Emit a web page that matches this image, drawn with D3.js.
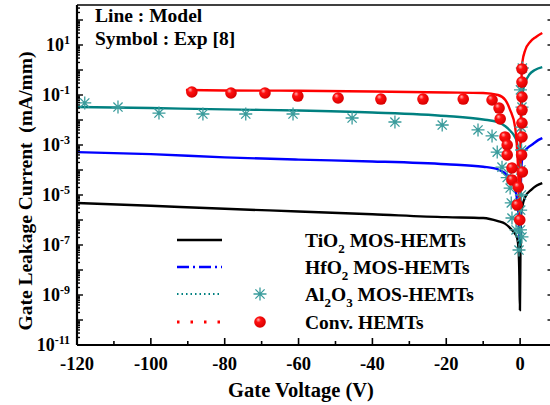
<!DOCTYPE html>
<html><head><meta charset="utf-8">
<script src="https://cdn.jsdelivr.net/npm/d3@7"></script>
<style>body{margin:0;background:#fff}svg{display:block}</style>
</head><body><svg id="c" width="550" height="405"></svg>
<script>
// ---------- data (gate voltage in V, leakage current in mA/mm) ----------
const xTicks = [-120, -100, -80, -60, -40, -20, 0];
const yTickExponents = [1, -1, -3, -5, -7, -9, -11];

const tio2V = [-120, -100, -80, -60, -40, -20, -10, -6, -4, -2.5, -1.5, -0.8, -0.4, -0.2, -0.05, 0.1, 0.25, 0.6, 1.5, 3, 4.5, 6];
const tio2I = [4.8e-6, 3.7e-6, 2.8e-6, 2.2e-6, 1.7e-6, 1.3e-6, 1.2e-6, 9e-7, 7e-7, 4.4e-7, 3e-7, 1.9e-7, 6e-8, 6e-9, 2.5e-10, 1e-7, 1.6e-6, 3.5e-6, 9e-6, 1.6e-5, 2.4e-5, 3e-5];

const hfo2V = [-120, -100, -80, -60, -40, -20, -10, -6, -3.5, -2.5, -1.5, -0.8, -0.4, -0.15, 0.05, 0.2, 0.5, 1, 2, 3.5, 5, 6];
const hfo2I = [5.2e-4, 4.3e-4, 3.2e-4, 2.6e-4, 2.2e-4, 1.7e-4, 1.35e-4, 1.07e-4, 6.3e-5, 4.5e-5, 2e-5, 6.3e-6, 1.3e-6, 1.6e-7, 3.2e-7, 2.5e-5, 2.5e-4, 5e-4, 7.6e-4, 1.1e-3, 1.6e-3, 1.9e-3];

const al2o3V = [-120, -100, -80, -60, -40, -20, -10, -6, -4, -2.5, -1.5, -0.8, -0.4, -0.15, -0.02, 0.1, 0.3, 0.7, 1.5, 2.5, 4, 6];
const al2o3I = [0.033, 0.03, 0.0265, 0.024, 0.02, 0.0145, 0.0105, 8.3e-3, 5.6e-3, 3.5e-3, 2.2e-3, 1.2e-3, 2.5e-4, 1e-5, 1e-7, 1e-4, 0.01, 0.126, 0.35, 0.66, 1.0, 1.3];

const convV = [-90.5, -80, -60, -40, -20, -10, -6, -4, -2.7, -1.35, -0.8, -0.4, -0.15, 0.05, 0.2, 0.4, 0.6, 1.4, 2.7, 4.3, 6];
const convI = [0.158, 0.151, 0.148, 0.138, 0.126, 0.12, 0.1, 0.063, 0.025, 5.2e-3, 6.3e-4, 3.2e-5, 1.6e-6, 1e-5, 0.01, 0.5, 2, 6.3, 13.2, 21, 30];

const expAl2o3V = [-117.9, -108.9, -97.8, -85.9, -74.3, -61.5, -45.5, -33.9, -21.1, -11.4, -7.6, -6.2, -4.9, -3.5, -2.7, -2.4, -2.2, -1.1, -0.3, 0.6, 0.1, 0.5, 0.3, 0.4, 0.2, 0.35, 0.15, 0.5, 0.1];
const expAl2o3I = [0.048, 0.033, 0.019, 0.0174, 0.0174, 0.0174, 0.012, 0.0083, 0.0063, 0.004, 0.0023, 5.2e-4, 1.3e-4, 5e-5, 1.9e-5, 4.8e-6, 1.2e-6, 4e-7, 6.3e-8, 1.2, 0.16, 0.033, 5.2e-3, 6.3e-4, 1e-4, 1e-5, 2.5e-6, 2.1e-7, 4e-7];

const expConvV = [-88.9, -78.3, -69.1, -60.2, -49.3, -37.7, -26.3, -15.4, -7.6, -5.7, -5.4, -4.1, -3.5, -3.5, -2.2, -2.2, -0.5, -0.8, -0.1, 0.5, 0.5, 0.5, 0.5, 0.5, 0.5, 0.4, 0.6];
const expConvI = [0.132, 0.12, 0.12, 0.091, 0.076, 0.069, 0.069, 0.069, 0.063, 0.03, 0.011, 2.1e-3, 1e-3, 4e-4, 1.2e-4, 4e-5, 2.1e-5, 4e-6, 1e-6, 1.1, 0.33, 0.083, 0.025, 7.6e-3, 2.1e-3, 4e-4, 8.3e-5];

// ---------- layout ----------
const svg = d3.select("#c");
const L = 77, R = 551.5, T = 5, B = 345;
const x = d3.scaleLinear().domain([-120, 8.5]).range([L, R]);
const y = d3.scaleLog().domain([1e-11, Math.pow(10, 2.6)]).range([B, T]);
const font = "'Liberation Serif','Times New Roman',serif";

const defs = svg.append("defs");
defs.append("clipPath").attr("id", "clip").append("rect")
  .attr("x", L).attr("y", T).attr("width", R - L).attr("height", B - T);
const grad = defs.append("radialGradient").attr("id", "ball").attr("cx", "40%").attr("cy", "40%").attr("r", "60%").attr("fx", "35%").attr("fy", "30%");
grad.append("stop").attr("offset", "0%").attr("stop-color", "#ffb0b0");
grad.append("stop").attr("offset", "35%").attr("stop-color", "#ff1010");
grad.append("stop").attr("offset", "100%").attr("stop-color", "#d80000");

// ---------- curves ----------
const plot = svg.append("g").attr("clip-path", "url(#clip)");
const line = d3.line().x(d => x(d[0])).y(d => y(d[1])).curve(d3.curveMonotoneX);
const series = [
  {V: tio2V, I: tio2I, c: "#000000"},
  {V: hfo2V, I: hfo2I, c: "#0000ff"},
  {V: al2o3V, I: al2o3I, c: "#008080"},
  {V: convV, I: convI, c: "#ff0000"}
];
series.forEach(s => {
  plot.append("path").datum(d3.zip(s.V, s.I)).attr("d", line)
    .attr("fill", "none").attr("stroke", s.c).attr("stroke-width", 2.4);
});

// ---------- markers ----------
const star = "M-6.5,0H6.5M0,-6.5V6.5M-4.6,-4.6L4.6,4.6M-4.6,4.6L4.6,-4.6";
plot.selectAll(".star").data(d3.zip(expAl2o3V, expAl2o3I)).enter().append("path")
  .attr("d", star).attr("transform", d => `translate(${x(d[0])},${y(d[1])})`)
  .attr("fill", "none").attr("stroke", "#3a9c9c").attr("stroke-width", 1.3);
plot.selectAll(".ball").data(d3.zip(expConvV, expConvI)).enter().append("circle")
  .attr("cx", d => x(d[0])).attr("cy", d => y(d[1])).attr("r", 5.8)
  .attr("fill", "url(#ball)");

// ---------- axes ----------
const ax = svg.append("g").attr("stroke", "#000");
ax.append("line").attr("x1", L).attr("x2", R).attr("y1", B).attr("y2", B).attr("stroke-width", 2.2);
ax.append("line").attr("x1", L).attr("x2", L).attr("y1", T).attr("y2", B).attr("stroke-width", 2.2);
ax.append("line").attr("x1", L).attr("x2", R + 2).attr("y1", T).attr("y2", T).attr("stroke-width", 1.5);
ax.append("line").attr("x1", R).attr("x2", R).attr("y1", T).attr("y2", B).attr("stroke-width", 1.5);

// x ticks
d3.range(-120, 1, 10).forEach(v => {
  const major = v % 20 === 0;
  ax.append("line").attr("x1", x(v)).attr("x2", x(v)).attr("y1", B).attr("y2", B - (major ? 7 : 4)).attr("stroke-width", 1.6);
});
svg.append("g").selectAll("text").data(xTicks).enter().append("text")
  .attr("x", d => x(d)).attr("y", 370).attr("text-anchor", "middle")
  .attr("font-family", font).attr("font-weight", "bold").attr("font-size", 18.5)
  .text(d => d);

// y ticks (log minor)
for (let e = -11; e <= 2; e++) {
  for (let m = 1; m <= 9; m++) {
    const v = m * Math.pow(10, e);
    if (v > y.domain()[1]) continue;
    const yy = y(v);
    ax.append("line").attr("x1", L).attr("x2", L + (m === 1 ? 6 : 3)).attr("y1", yy).attr("y2", yy).attr("stroke-width", 1.4);
    if (m === 1) ax.append("line").attr("x1", R).attr("x2", R - 4).attr("y1", yy).attr("y2", yy).attr("stroke-width", 1.4);
  }
}
const yl = svg.append("g").selectAll("text").data(yTickExponents).enter().append("text")
  .attr("x", 70).attr("y", d => y(Math.pow(10, d)) + 6).attr("text-anchor", "end")
  .attr("font-family", font).attr("font-weight", "bold").attr("font-size", 18);
yl.append("tspan").text("10");
yl.append("tspan").attr("dy", -7).attr("font-size", 12).text(d => d === 1 ? "1" : "-" + Math.abs(d));

// axis titles
svg.append("text").attr("x", 301).attr("y", 397).attr("text-anchor", "middle")
  .attr("font-family", font).attr("font-weight", "bold").attr("font-size", 20.5)
  .text("Gate Voltage (V)");
svg.append("text").attr("transform", "translate(32,191) rotate(-90)").attr("text-anchor", "middle")
  .attr("font-family", font).attr("font-weight", "bold").attr("font-size", 19.5)
  .attr("xml:space", "preserve")
  .text("Gate Leakage Current  (mA/mm)");

// notes
svg.append("text").attr("x", 95).attr("y", 22).attr("font-family", font).attr("font-weight", "bold").attr("font-size", 19.5).text("Line : Model");
svg.append("text").attr("x", 95).attr("y", 45).attr("font-family", font).attr("font-weight", "bold").attr("font-size", 19.5).text("Symbol : Exp [8]");

// ---------- legend ----------
const leg = [
  {parts: [["TiO", 0], ["2", 1], [" MOS-HEMTs", 0]], c: "#000", dash: null, w: 2.4, mk: null},
  {parts: [["HfO", 0], ["2", 1], [" MOS-HEMTs", 0]], c: "#0000ff", dash: "12,4,2,4", w: 2.4, mk: null},
  {parts: [["Al", 0], ["2", 1], ["O", 0], ["3", 1], [" MOS-HEMTs", 0]], c: "#008080", dash: "1.5,3", w: 2, mk: "star"},
  {parts: [["Conv. HEMTs", 0]], c: "#ff0000", dash: "2.5,11", w: 3, mk: "ball"}
];
const rowY = [240, 267, 294, 322];
leg.forEach((l, i) => {
  const ly = rowY[i];
  svg.append("line").attr("x1", 177).attr("x2", 222).attr("y1", ly).attr("y2", ly)
    .attr("stroke", l.c).attr("stroke-width", l.w).attr("stroke-dasharray", l.dash);
  if (l.mk === "star") svg.append("path").attr("d", star).attr("transform", `translate(260,${ly})`)
    .attr("fill", "none").attr("stroke", "#3a9c9c").attr("stroke-width", 1.3);
  if (l.mk === "ball") svg.append("circle").attr("cx", 260).attr("cy", ly).attr("r", 5.8).attr("fill", "url(#ball)");
  const t = svg.append("text").attr("x", 305).attr("y", ly + 7)
    .attr("font-family", font).attr("font-weight", "bold").attr("font-size", 19.5).attr("xml:space", "preserve");
  let sub = false;
  l.parts.forEach(p => {
    const ts = t.append("tspan").text(p[0]);
    if (p[1] && !sub) { ts.attr("dy", 6).attr("font-size", 13); sub = true; }
    else if (!p[1] && sub) { ts.attr("dy", -6); sub = false; }
  });
});
</script></body></html>
